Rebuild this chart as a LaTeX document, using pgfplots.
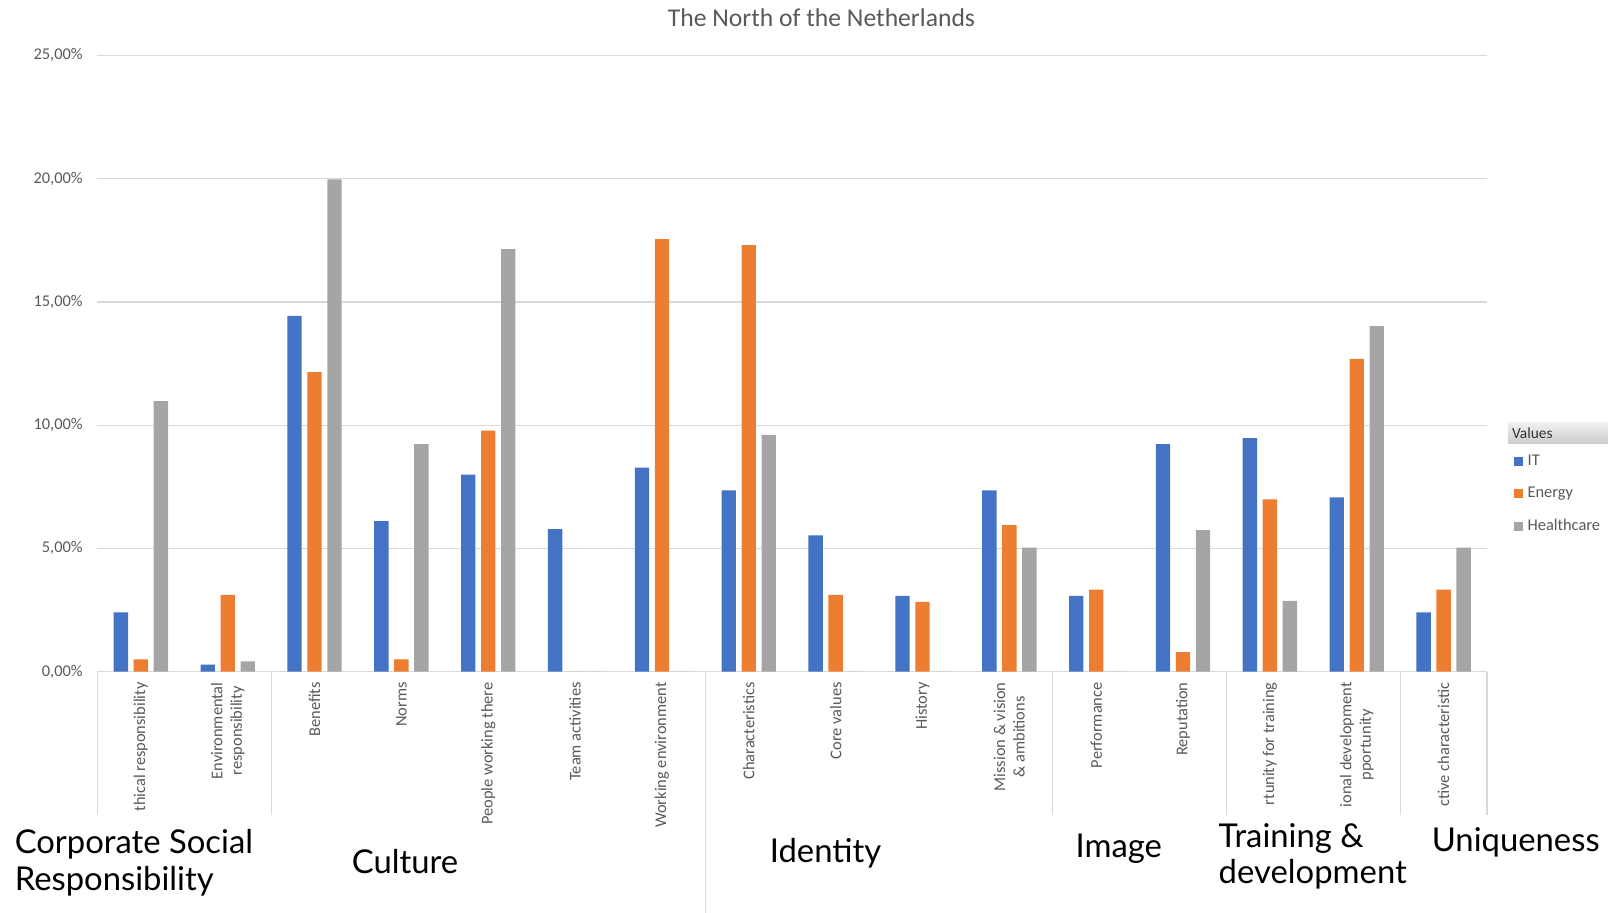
\documentclass[border=0pt]{standalone}
\usepackage{fontspec}
\setmainfont{Carlito}
\newfontfamily\grpfont{Lato}
\usepackage{pgfplots}
\pgfplotsset{compat=1.18}

\definecolor{itblue}{HTML}{4472C4}
\definecolor{enorange}{HTML}{ED7D31}
\definecolor{hcgray}{HTML}{A5A5A5}
\definecolor{txtgray}{HTML}{595959}
\definecolor{gridgray}{HTML}{D9D9D9}

\begin{document}
\begin{tikzpicture}
\path[use as bounding box] (0pt,0pt) rectangle (784pt,445pt);

\begin{axis}[
    at={(47.5pt,117.5pt)}, anchor=south west,
    width=677.5pt, height=300.5pt, scale only axis,
    ybar=2.75pt, bar width=7pt,
    xmin=-0.5, xmax=15.5, ymin=0, ymax=25,
    axis line style={draw=none},
    major tick length=0pt,
    ymajorgrids, grid style={gridgray, line width=0.6pt},
    ytick={0,5,10,15,20,25},
    yticklabels={{0,00\%},{5,00\%},{10,00\%},{15,00\%},{20,00\%},{25,00\%}},
    yticklabel style={font=\fontsize{8}{9}\selectfont, text=txtgray, inner sep=0pt, xshift=-7pt},
    xtick={0,...,15},
    xticklabels={thical responsibility, {Environmental\\responsibility}, Benefits, Norms,
      People working there, Team activities, Working environment, Characteristics,
      Core values, History, {Mission \& vision\\\& ambitions}, Performance, Reputation,
      rtunity for training, {ional development\\pportunity}, ctive characteristic},
    xticklabel style={font=\fontsize{8}{9.5}\selectfont, text=txtgray, inner sep=0pt,
      yshift=-5pt, rotate=90, anchor=east, align=center},
    clip=false,
    legend style={at={(1.019,0.356)}, anchor=north west, draw=none, fill=none,
      font=\fontsize{8}{9}\selectfont, text=txtgray, row sep=7pt, inner sep=0pt,
      nodes={inner sep=1pt}},
    legend cell align=left,
    legend image code/.code={\fill[#1] (0pt,-2.2pt) rectangle (4.4pt,2.2pt);},
  ]

  % IT
  \addplot[fill=itblue, draw=none] coordinates {
      (0,2.41) (1,0.29) (2,14.43) (3,6.11) (4,7.99) (5,5.78) (6,8.28) (7,7.36)
      (8,5.53) (9,3.08) (10,7.36) (11,3.08) (12,9.23) (13,9.48) (14,7.07) (15,2.41)
    };
  % Energy
  \addplot[fill=enorange, draw=none] coordinates {
      (0,0.50) (1,3.12) (2,12.15) (3,0.50) (4,9.78) (5,0) (6,17.55) (7,17.30)
      (8,3.12) (9,2.83) (10,5.95) (11,3.33) (12,0.79) (13,6.99) (14,12.69) (15,3.33)
    };
  % Healthcare
  \addplot[fill=hcgray, draw=none] coordinates {
      (0,10.98) (1,0.42) (2,19.97) (3,9.23) (4,17.14) (5,0) (6,0) (7,9.61)
      (8,0) (9,0) (10,5.03) (11,0) (12,5.74) (13,2.87) (14,14.02) (15,5.03)
    };
  \legend{\,IT, \,Energy, \,Healthcare}

  % group separators under the axis
  \draw[gridgray, line width=0.6pt] (axis cs:-0.5,0) -- ++(0pt,-70pt);
  \draw[gridgray, line width=0.6pt] (axis cs:1.5,0) -- ++(0pt,-70pt);
  \draw[gridgray, line width=0.6pt] (axis cs:6.5,0) -- ++(0pt,-117.5pt);
  \draw[gridgray, line width=0.6pt] (axis cs:10.5,0) -- ++(0pt,-70pt);
  \draw[gridgray, line width=0.6pt] (axis cs:12.5,0) -- ++(0pt,-70pt);
  \draw[gridgray, line width=0.6pt] (axis cs:14.5,0) -- ++(0pt,-70pt);
  \draw[gridgray, line width=0.6pt] (axis cs:15.5,0) -- ++(0pt,-70pt);
\end{axis}

% title
\node[font=\fontsize{12.5}{14}\selectfont, text=txtgray] at (400.5pt,436.5pt)
  {The North of the Netherlands};

% legend header
\node[anchor=north west, inner xsep=2pt, inner ysep=0pt, minimum height=10pt,
  text width=45pt, align=left, top color=gray!12, bottom color=gray!40,
  text=black!80, font=\fontsize{7.5}{9}\selectfont] at (735pt,239pt) {Values};

% group labels
\begin{scope}[every node/.style={font=\grpfont\fontsize{16}{18}\selectfont, text=black, align=left}]
  \node[anchor=west, inner xsep=0pt] at (7pt,24.5pt) {Corporate Social\\Responsibility};
  \node at (197.5pt,25pt) {Culture};
  \node at (402.5pt,29pt) {Identity};
  \node at (545.5pt,31pt) {Image};
  \node[anchor=west, inner xsep=0pt] at (594pt,27.5pt) {Training \&\\development};
  \node at (739pt,34.5pt) {Uniqueness};
\end{scope}
\end{tikzpicture}
\end{document}
